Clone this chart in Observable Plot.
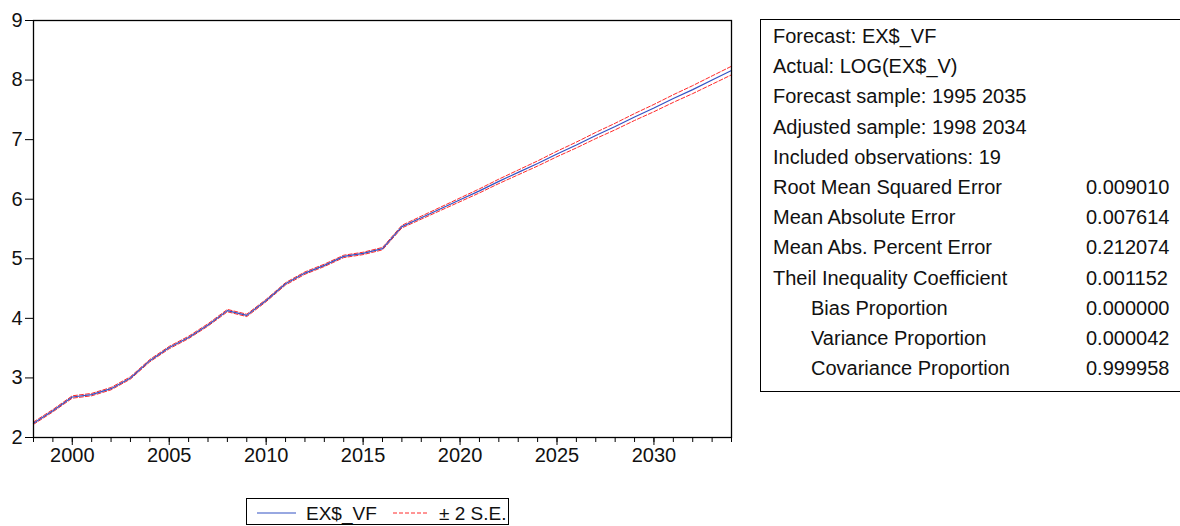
<!DOCTYPE html>
<html>
<head>
<meta charset="utf-8">
<script src="https://cdn.jsdelivr.net/npm/d3@7"></script>
<script src="https://cdn.jsdelivr.net/npm/@observablehq/plot@0.6"></script>
<style>
  html, body { margin: 0; padding: 0; background: #fff; overflow: hidden; }
  #wrap { position: relative; width: 1180px; height: 526px; overflow: hidden; font-family: "Liberation Sans", Arial, sans-serif; }
  #chart { position: absolute; left: 0; top: 0; }
  #stats { position: absolute; left: 760px; top: 19px; width: 460px; height: 373px; border: 1.3px solid #000; box-sizing: border-box; font-size: 20px; color: #111; }
  #stats .row { position: absolute; left: 0; height: 24px; line-height: 24px; white-space: nowrap; }
  #legend { position: absolute; left: 246px; top: 498px; width: 263px; height: 27px; border: 1.3px solid #000; box-sizing: border-box; font-size: 19px; color: #111; }
</style>
</head>
<body>
<div id="wrap">
  <div id="chart"></div>
  <div id="stats"></div>
  <div id="legend"></div>
</div>
<script>
// ---- data ----
const years = [1998,1999,2000,2001,2002,2003,2004,2005,2006,2007,2008,2009,2010,2011,2012,2013,2014,2015,2016,2017,2018,2019,2020,2021,2022,2023,2024,2025,2026,2027,2028,2029,2030,2031,2032,2033,2034];
const forecast = [2.24,2.45,2.68,2.72,2.82,3.00,3.29,3.51,3.68,3.89,4.13,4.05,4.30,4.58,4.76,4.89,5.04,5.09,5.17,5.54,5.69,5.84,5.99,6.14,6.30,6.45,6.60,6.76,6.91,7.07,7.22,7.38,7.53,7.69,7.84,8.00,8.16];
const twoSE = [0.020,0.020,0.020,0.020,0.020,0.020,0.020,0.020,0.020,0.020,0.020,0.020,0.020,0.020,0.020,0.020,0.020,0.020,0.020,0.022,0.025,0.028,0.031,0.034,0.037,0.040,0.043,0.046,0.049,0.052,0.055,0.058,0.061,0.064,0.067,0.070,0.072];
const yTicks = [2,3,4,5,6,7,8,9];
const xMajorTicks = [2000,2005,2010,2015,2020,2025,2030];
const xMinorTicks = years;
const statLabels = ["Forecast: EX$_VF","Actual: LOG(EX$_V)","Forecast sample: 1995 2035","Adjusted sample: 1998 2034","Included observations: 19","Root Mean Squared Error","Mean Absolute Error","Mean Abs. Percent Error","Theil Inequality Coefficient","Bias Proportion","Variance Proportion","Covariance Proportion"];
const statValues = ["","","","","","0.009010","0.007614","0.212074","0.001152","0.000000","0.000042","0.999958"];
const statIndent = [false,false,false,false,false,false,false,false,false,true,true,true];
const legendLabels = ["EX$_VF","± 2 S.E."];

// ---- table ----
const rows = years.map((y, i) => ({year: y, f: forecast[i], up: forecast[i] + twoSE[i], lo: forecast[i] - twoSE[i]}));

const blue = "#3352c4";
const red = "#ff2a2a";

const plot = Plot.plot({
  width: 1180,
  height: 526,
  marginLeft: 33,
  marginRight: 449,
  marginTop: 20,
  marginBottom: 89,
  style: {fontFamily: '"Liberation Sans", Arial, sans-serif', fontSize: "20px", color: "#111", background: "white"},
  x: {domain: [1998, 2034], label: null},
  y: {domain: [2, 9], label: null},
  marks: [
    Plot.axisY({ticks: yTicks, tickSize: 8, tickPadding: 3, tickFormat: d => String(d), fontSize: 20, stroke: "#000"}),
    Plot.axisX({ticks: xMinorTicks, tickSize: 5, tickFormat: () => "", stroke: "#000"}),
    Plot.axisX({ticks: xMajorTicks, tickSize: 8, tickPadding: 2, tickFormat: d => String(d), fontSize: 20, stroke: "#000"}),
    Plot.line(rows, {x: "year", y: "up", stroke: red, strokeWidth: 1, strokeDasharray: "4,2"}),
    Plot.line(rows, {x: "year", y: "lo", stroke: red, strokeWidth: 1, strokeDasharray: "4,2"}),
    Plot.line(rows, {x: "year", y: "f", stroke: blue, strokeWidth: 1.2}),
    Plot.frame({stroke: "#000", strokeWidth: 1.3})
  ]
});
document.getElementById("chart").appendChild(plot);

// ---- stats box ----
const stats = document.getElementById("stats");
statLabels.forEach((lab, i) => {
  const top = 4 + i * 30.2;
  const l = document.createElement("div");
  l.className = "row";
  l.style.top = top + "px";
  l.style.left = (statIndent[i] ? 50 : 12) + "px";
  l.textContent = lab;
  stats.appendChild(l);
  if (statValues[i]) {
    const v = document.createElement("div");
    v.className = "row";
    v.style.top = top + "px";
    v.style.left = "325px";
    v.textContent = statValues[i];
    stats.appendChild(v);
  }
});

// ---- legend ----
const legend = document.getElementById("legend");
legend.innerHTML = `
<svg width="263" height="27" style="position:absolute;left:-1px;top:-1px;overflow:visible">
  <line x1="11" x2="50" y1="15" y2="15" stroke="${blue}" stroke-width="1.2"/>
  <text x="60" y="21.5" font-size="19" fill="#111" font-family="Liberation Sans, Arial, sans-serif">${legendLabels[0]}</text>
  <line x1="147" x2="183" y1="15" y2="15" stroke="${red}" stroke-width="1" stroke-dasharray="4,2"/>
  <text x="193" y="21.5" font-size="19" fill="#111" font-family="Liberation Sans, Arial, sans-serif">${legendLabels[1]}</text>
</svg>`;
</script>
</body>
</html>
